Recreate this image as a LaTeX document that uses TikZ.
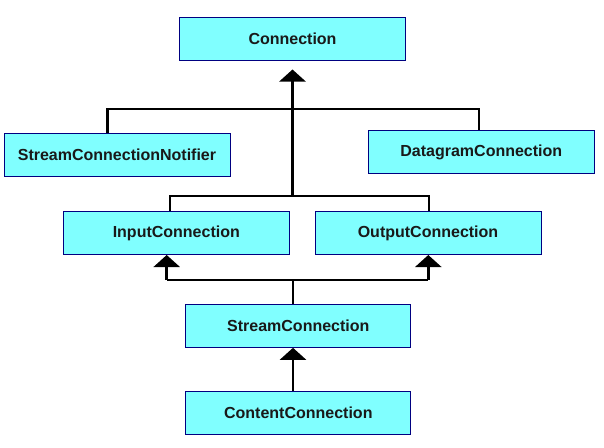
\documentclass[tikz,border=0pt]{standalone}
\usepackage{fontspec}
\setmainfont{Liberation Sans}
\usetikzlibrary{arrows.meta}
\definecolor{boxfill}{RGB}{128,255,255}
\definecolor{boxline}{RGB}{0,0,128}
\tikzset{
  cls/.style={draw=boxline, fill=boxfill, line width=1pt, minimum width=226pt, minimum height=43pt,
    inner sep=0pt, font=\fontsize{16}{19}\selectfont\bfseries, text=black!90},
  conn/.style={line width=2.5pt, draw=black},
  gen/.style={conn, -{Triangle[width=26pt,length=12pt]}}
}
\begin{document}
\begin{tikzpicture}[x=1pt,y=-1pt]
\useasboundingbox[fill=white] (0,0) rectangle (604,447);
\node[cls] (conn) at (292.5,38.5) {Connection};
\node[cls] (scn) at (117,154.5) {StreamConnectionNotifier};
\node[cls] (dc) at (481.3,152) {DatagramConnection};
\node[cls] (inp) at (176.3,233) {InputConnection};
\node[cls] (outp) at (428,233) {OutputConnection};
\node[cls, minimum width=225pt] (sc) at (298.3,325.8) {StreamConnection};
\node[cls, minimum width=225pt] (cc) at (298.3,412.8) {ContentConnection};
\coordinate (b1) at (0,109);
\coordinate (b2) at (0,196);
\coordinate (b3) at (0,280);
\coordinate (ctip) at ([yshift=-9pt]conn.south);
\coordinate (scnT) at ([xshift=-9.3pt]scn.north);
\coordinate (dcT) at ([xshift=-2.3pt]dc.north);
\coordinate (inT) at ([xshift=-6.3pt]inp.north);
\coordinate (outT) at ([xshift=1pt]outp.north);
\coordinate (inB) at ([xshift=-9.6pt]inp.south);
\coordinate (outB) at ([xshift=0.3pt]outp.south);
\coordinate (scT) at ([xshift=-5.3pt]sc.north);
\coordinate (scB) at ([xshift=-5.3pt]sc.south);
\coordinate (ccT) at ([xshift=-5.3pt]cc.north);
% top hierarchy
\draw[gen] (ctip |- b2) -- (ctip);
\draw[conn] (scnT) -- (scnT |- b1) -- (dcT |- b1) -- (dcT);
\draw[conn] (inT) -- (inT |- b2) -- (outT |- b2) -- (outT);
% stream connection
\draw[conn] (scT) -- (scT |- b3);
\draw[conn] (inB |- b3) -- (outB |- b3);
\draw[gen] (inB |- b3) -- (inB);
\draw[gen] (outB |- b3) -- (outB);
\draw[gen] (ccT) -- (scB);
\end{tikzpicture}
\end{document}
